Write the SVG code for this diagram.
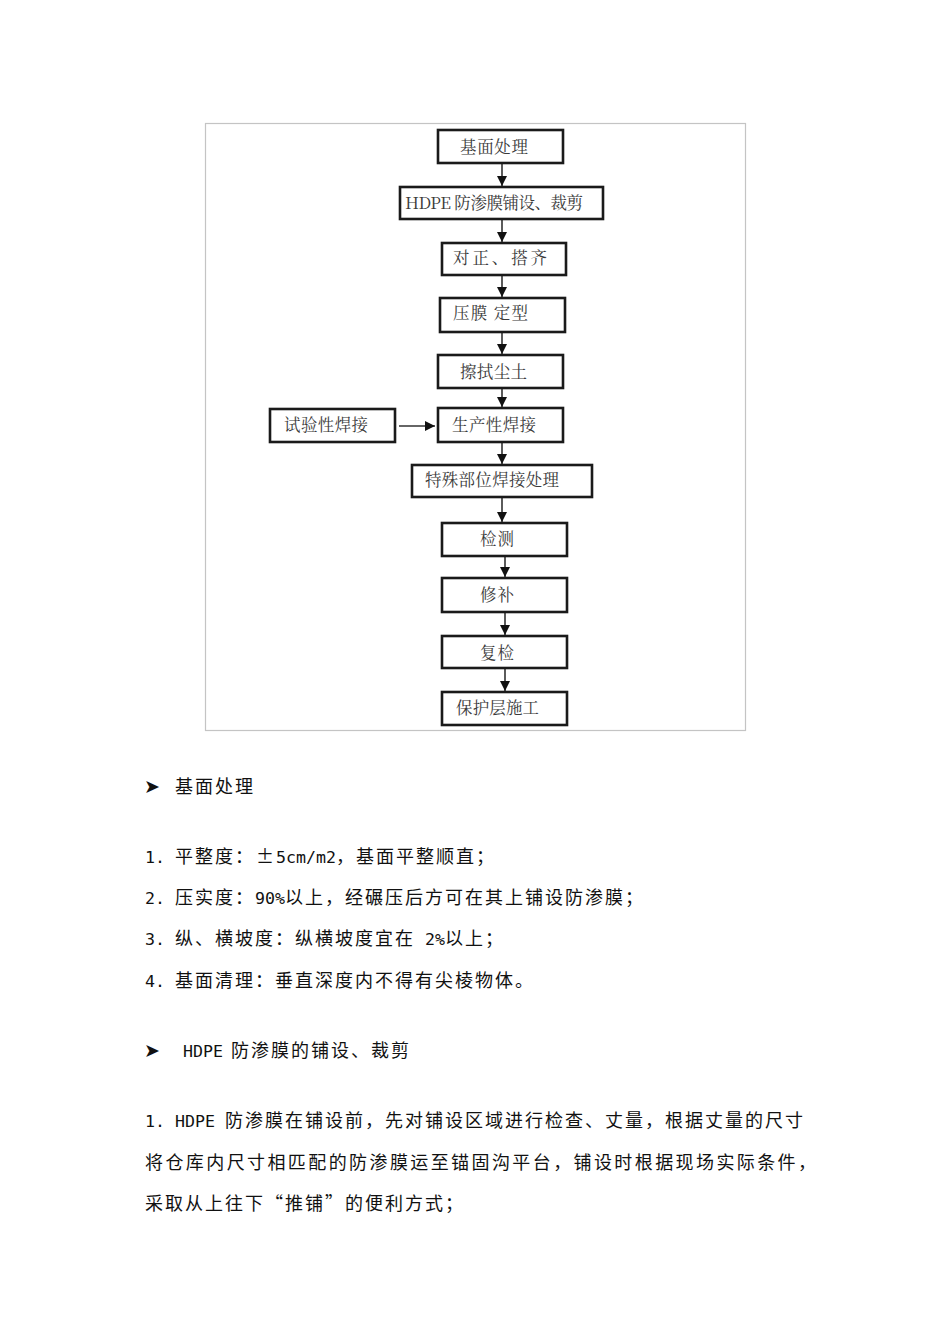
<svg xmlns="http://www.w3.org/2000/svg" width="950" height="1344" viewBox="0 0 950 1344">
<style>
.frame{fill:none;stroke:#c4c4c4;stroke-width:1.2}
.box{fill:#fff;stroke:#1a1a1a;stroke-width:2.6}
.bt{font-family:"Noto Serif CJK SC","Noto Sans CJK SC","Noto Sans",serif;font-size:16.5px;fill:#3a3a3a}
.conn{stroke:#333;stroke-width:1.6;fill:none}
.body{font-family:"Noto Sans CJK SC","Noto Sans",sans-serif;font-size:18px;letter-spacing:2px;fill:#111}
.lat{font-family:"DejaVu Sans Mono","Liberation Mono",monospace;font-size:16.6px;letter-spacing:0}
.bul{font-family:"DejaVu Sans",sans-serif;font-size:19px;fill:#111}
</style>
<defs>
<marker id="ah" markerUnits="userSpaceOnUse" markerWidth="10" markerHeight="10" refX="10" refY="5" orient="auto">
<path d="M0,0 L10,5 L0,10 z" fill="#111"/>
</marker>
</defs>
<rect width="950" height="1344" fill="#fff"/>
<rect class="frame" x="205.5" y="123.5" width="540" height="607"/>

<g id="connectors">
<line class="conn" x1="502" y1="164" x2="502" y2="186" marker-end="url(#ah)"/>
<line class="conn" x1="502" y1="220" x2="502" y2="242" marker-end="url(#ah)"/>
<line class="conn" x1="502" y1="276" x2="502" y2="297" marker-end="url(#ah)"/>
<line class="conn" x1="502" y1="333" x2="502" y2="354" marker-end="url(#ah)"/>
<line class="conn" x1="502" y1="389" x2="502" y2="407" marker-end="url(#ah)"/>
<line class="conn" x1="399" y1="426" x2="435" y2="426" marker-end="url(#ah)"/>
<line class="conn" x1="502" y1="443" x2="502" y2="464" marker-end="url(#ah)"/>
<line class="conn" x1="502" y1="498" x2="502" y2="522" marker-end="url(#ah)"/>
<line class="conn" x1="505" y1="557" x2="505" y2="577" marker-end="url(#ah)"/>
<line class="conn" x1="505" y1="613" x2="505" y2="635" marker-end="url(#ah)"/>
<line class="conn" x1="505" y1="669" x2="505" y2="691" marker-end="url(#ah)"/>
</g>

<g id="n1"><rect class="box" x="438" y="130" width="125" height="33"/><text class="bt" x="460" y="153" textLength="68">基面处理</text></g>
<g id="n2"><rect class="box" x="400" y="187" width="203" height="32"/><text class="bt" x="405" y="209" textLength="178">HDPE 防渗膜铺设、裁剪</text></g>
<g id="n3"><rect class="box" x="442" y="243" width="124" height="32"/><text class="bt" x="453" y="264" textLength="94">对正、搭齐</text></g>
<g id="n4"><rect class="box" x="440" y="298" width="125" height="34"/><text class="bt" x="453" y="319" textLength="75">压膜 定型</text></g>
<g id="n5"><rect class="box" x="438" y="355" width="125" height="33"/><text class="bt" x="460" y="378" textLength="67">擦拭尘土</text></g>
<g id="n6"><rect class="box" x="438" y="408" width="125" height="34"/><text class="bt" x="452" y="431" textLength="84">生产性焊接</text></g>
<g id="n0"><rect class="box" x="270" y="409" width="125" height="33"/><text class="bt" x="284" y="431" textLength="84">试验性焊接</text></g>
<g id="n7"><rect class="box" x="412" y="465" width="180" height="32"/><text class="bt" x="425" y="486" textLength="134">特殊部位焊接处理</text></g>
<g id="n8"><rect class="box" x="442" y="523" width="125" height="33"/><text class="bt" x="480" y="545" textLength="34">检测</text></g>
<g id="n9"><rect class="box" x="442" y="578" width="125" height="34"/><text class="bt" x="480" y="601" textLength="34">修补</text></g>
<g id="n10"><rect class="box" x="442" y="636" width="125" height="32"/><text class="bt" x="480" y="659" textLength="34">复检</text></g>
<g id="n11"><rect class="box" x="442" y="692" width="125" height="33"/><text class="bt" x="456" y="714" textLength="83">保护层施工</text></g>

<g id="text">
<text class="bul" x="144" y="793">➤</text>
<text class="body" x="175" y="793">基面处理</text>
<text class="body" y="863"><tspan class="lat" x="145">1.</tspan><tspan x="175">平整度：</tspan><tspan x="256">±</tspan><tspan class="lat" x="276">5cm/m2</tspan><tspan x="336">，基面平整顺直；</tspan></text>
<text class="body" y="904"><tspan class="lat" x="145">2.</tspan><tspan x="175">压实度：</tspan><tspan class="lat" x="255">90%</tspan><tspan x="285">以上，经碾压后方可在其上铺设防渗膜；</tspan></text>
<text class="body" y="945"><tspan class="lat" x="145">3.</tspan><tspan x="175">纵、横坡度：纵横坡度宜在</tspan><tspan class="lat" x="425">2%</tspan><tspan x="445">以上；</tspan></text>
<text class="body" y="987"><tspan class="lat" x="145">4.</tspan><tspan x="175">基面清理：垂直深度内不得有尖棱物体。</tspan></text>
<text class="bul" x="144" y="1057">➤</text>
<text class="body" y="1057"><tspan class="lat" x="183">HDPE</tspan><tspan x="231">防渗膜的铺设、裁剪</tspan></text>
<text class="body" y="1127"><tspan class="lat" x="145">1.</tspan><tspan class="lat" x="175">HDPE</tspan><tspan x="225">防渗膜在铺设前，先对铺设区域进行检查、丈量，根据丈量的尺寸</tspan></text>
<text class="body" x="145" y="1169" textLength="673">将仓库内尺寸相匹配的防渗膜运至锚固沟平台，铺设时根据现场实际条件，</text>
<text class="body" x="145" y="1210">采取从上往下“推铺”的便利方式；</text>
</g>
</svg>
